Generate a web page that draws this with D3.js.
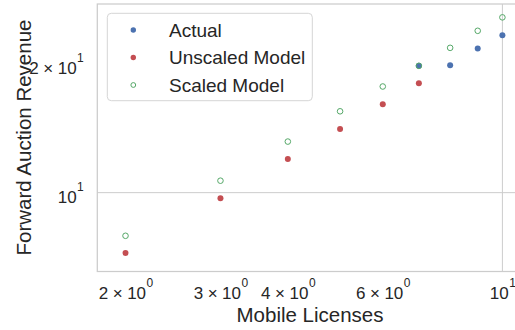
<!DOCTYPE html>
<html>
<head>
<meta charset="utf-8">
<script src="https://cdn.jsdelivr.net/npm/d3@7"></script>
<style>
  body { margin: 0; background: #fff; }
  svg { display: block; font-family: "Liberation Sans", Arial, sans-serif; }
  text { fill: #262626; }
</style>
</head>
<body>
<svg id="chart" width="515" height="330"></svg>
<script>
var mobileLicenses = [2, 3, 4, 5, 6, 7, 8, 9, 10];
var actualLicenses = [7, 8, 9, 10];
var actualRevenue = [19.7, 19.75, 21.6, 23.2];
var unscaledLicenses = [2, 3, 4, 5, 6, 7];
var unscaledRevenue = [7.24, 9.71, 11.97, 14.06, 16.04, 17.96];
var scaledRevenue = [7.94, 10.66, 13.14, 15.45, 17.64, 19.7, 21.69, 23.76, 25.53];

var xTicks = [2, 3, 4, 6, 10];
var xTickLabels = [['2', '0'], ['3', '0'], ['4', '0'], ['6', '0'], [null, '1']];
var yTicks = [10, 20];
var yTickLabels = [[null, '1'], ['2', '1']];
var seriesNames = ['Actual', 'Unscaled Model', 'Scaled Model'];

var blue = '#4c72b0';
var red = '#c44e52';
var green = '#55a868';
var gridColor = '#cccccc';

var svg = d3.select('#chart');

var x = d3.scaleLog().domain([1.773, 10.92]).range([97.3, 523]);
var y = d3.scaleLog().domain([6.56, 27.42]).range([271.5, 4]);

// matplotlib style "2 x 10^0" label built out of tspans
function powerLabel(text, parts) {
  text.text(null);
  if (parts[0]) {
    text.append('tspan').text(parts[0]);
    text.append('tspan').attr('dx', 4.5).text('\u00d7');
    text.append('tspan').attr('dx', 4.5).text('10');
  } else {
    text.append('tspan').text('10');
  }
  text.append('tspan')
    .attr('font-size', 12)
    .attr('dx', 0.5)
    .attr('dy', -12)
    .text(parts[1]);
}

// grid (major ticks only)
svg.append('line')
  .attr('x1', x(10)).attr('x2', x(10))
  .attr('y1', y.range()[1]).attr('y2', y.range()[0])
  .attr('stroke', gridColor).attr('stroke-width', 1);
svg.append('line')
  .attr('x1', x.range()[0]).attr('x2', x.range()[1])
  .attr('y1', y(10)).attr('y2', y(10))
  .attr('stroke', gridColor).attr('stroke-width', 1);

// spines
svg.append('rect')
  .attr('x', x.range()[0])
  .attr('y', y.range()[1])
  .attr('width', x.range()[1] - x.range()[0])
  .attr('height', y.range()[0] - y.range()[1])
  .attr('fill', 'none')
  .attr('stroke', gridColor)
  .attr('stroke-width', 1.25);

var xAxis = svg.append('g')
  .attr('transform', 'translate(0,' + y.range()[0] + ')')
  .call(d3.axisBottom(x).tickValues(xTicks).tickSize(0).tickFormat(''));
xAxis.select('.domain').remove();
xAxis.selectAll('.tick text')
  .attr('y', 27.2)
  .attr('dy', null)
  .attr('font-size', 17)
  .attr('font-family', null)
  .attr('fill', '#262626')
  .each(function (d, i) { powerLabel(d3.select(this), xTickLabels[i]); });

var yAxis = svg.append('g')
  .attr('transform', 'translate(' + x.range()[0] + ',0)')
  .call(d3.axisLeft(y).tickValues(yTicks).tickSize(0).tickFormat(''));
yAxis.select('.domain').remove();
yAxis.selectAll('.tick text')
  .attr('x', -13.5)
  .attr('y', 10)
  .attr('dy', null)
  .attr('font-size', 17)
  .attr('font-family', null)
  .attr('fill', '#262626')
  .each(function (d, i) { powerLabel(d3.select(this), yTickLabels[i]); });

svg.append('text')
  .attr('x', 310)
  .attr('y', 321.5)
  .attr('text-anchor', 'middle')
  .attr('font-size', 20.5)
  .text('Mobile Licenses');

svg.append('text')
  .attr('transform', 'translate(31,137.5) rotate(-90)')
  .attr('text-anchor', 'middle')
  .attr('font-size', 20.5)
  .text('Forward Auction Revenue');

// points
var pointLayer = svg.append('g');

pointLayer.selectAll('circle.actual')
  .data(actualLicenses)
  .enter().append('circle')
  .attr('class', 'actual')
  .attr('cx', function (d) { return x(d); })
  .attr('cy', function (d, i) { return y(actualRevenue[i]); })
  .attr('r', 3)
  .attr('fill', blue);

pointLayer.selectAll('circle.unscaled')
  .data(unscaledLicenses)
  .enter().append('circle')
  .attr('class', 'unscaled')
  .attr('cx', function (d) { return x(d); })
  .attr('cy', function (d, i) { return y(unscaledRevenue[i]); })
  .attr('r', 3)
  .attr('fill', red);

pointLayer.selectAll('circle.scaled')
  .data(mobileLicenses)
  .enter().append('circle')
  .attr('class', 'scaled')
  .attr('cx', function (d) { return x(d); })
  .attr('cy', function (d, i) { return y(scaledRevenue[i]); })
  .attr('r', 2.8)
  .attr('fill', 'none')
  .attr('stroke', green)
  .attr('stroke-width', 1);

// legend
var legend = svg.append('g');
legend.append('rect')
  .attr('x', 107.3).attr('y', 13.3)
  .attr('width', 205).attr('height', 87.4)
  .attr('rx', 4)
  .attr('fill', '#fff').attr('fill-opacity', 0.8)
  .attr('stroke', '#d5d5d5').attr('stroke-width', 1);

var legendRows = legend.selectAll('g.row')
  .data(seriesNames)
  .enter().append('g')
  .attr('class', 'row')
  .attr('transform', function (d, i) { return 'translate(0,' + (30 + i * 27.5) + ')'; });

legendRows.append('circle')
  .attr('cx', 133.3)
  .attr('cy', 0)
  .attr('r', function (d, i) { return i === 2 ? 2.4 : 2.7; })
  .attr('fill', function (d, i) { return [blue, red, 'none'][i]; })
  .attr('stroke', function (d, i) { return i === 2 ? green : 'none'; })
  .attr('stroke-width', 1);

legendRows.append('text')
  .attr('x', 169)
  .attr('y', 0)
  .attr('dy', '0.36em')
  .attr('font-size', 19)
  .text(function (d) { return d; });
</script>
</body>
</html>
